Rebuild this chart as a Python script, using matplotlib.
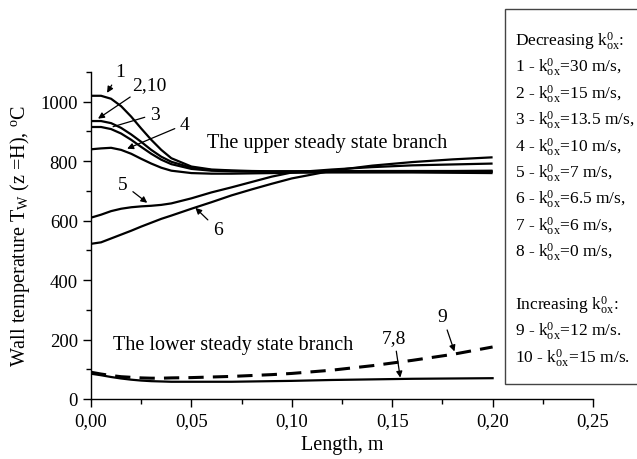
import matplotlib
matplotlib.use("Agg")
import matplotlib.pyplot as plt
from matplotlib.ticker import MultipleLocator, FuncFormatter
from matplotlib.patches import Rectangle

plt.rcParams['font.family'] = ['Liberation Serif', 'DejaVu Serif']
plt.rcParams['mathtext.fontset'] = 'custom'
plt.rcParams['mathtext.rm'] = 'Liberation Serif'
plt.rcParams['mathtext.it'] = 'Liberation Serif:italic'

# ---- data ----
length = [0, 0.005, 0.01, 0.015, 0.02, 0.025, 0.03, 0.035, 0.04, 0.05,
          0.06, 0.07, 0.08, 0.09, 0.10, 0.12, 0.14, 0.16, 0.18, 0.20]
curve1 = [1020, 1020, 1010, 985, 950, 910, 872, 838, 810, 782,
          772, 769, 767, 766, 766, 766, 767, 767, 767, 768]
curve2_10 = [935, 935, 928, 912, 890, 865, 838, 815, 798, 778,
             770, 767, 766, 765, 765, 765, 765, 766, 766, 766]
curve3 = [915, 915, 908, 893, 872, 848, 825, 805, 790, 774,
          768, 766, 765, 765, 765, 765, 765, 765, 765, 764]
curve4 = [840, 843, 845, 838, 825, 808, 792, 778, 768, 760,
          758, 758, 759, 760, 761, 762, 762, 762, 761, 760]
curve5 = [610, 620, 632, 640, 645, 648, 650, 653, 658, 675,
          695, 712, 730, 748, 762, 772, 780, 786, 789, 792]
curve6 = [522, 527, 540, 553, 566, 580, 593, 606, 617, 640,
          662, 685, 705, 724, 742, 768, 785, 797, 806, 813]
curve7_8 = [85, 80, 74, 69, 65, 62, 60, 59, 58, 58,
            58, 58, 59, 60, 61, 64, 66, 68, 69, 70]
curve9 = [90, 84, 79, 75, 73, 71, 70, 70, 71, 72,
          74, 76, 79, 82, 86, 97, 112, 130, 150, 175]

upper_solid = [curve1, curve2_10, curve3, curve4, curve5, curve6]

legend_lines = [
    r"Decreasing k$\mathregular{^{0}_{ox}}$:",
    r"1 - k$\mathregular{^{0}_{ox}}$=30 m/s,",
    r"2 - k$\mathregular{^{0}_{ox}}$=15 m/s,",
    r"3 - k$\mathregular{^{0}_{ox}}$=13.5 m/s,",
    r"4 - k$\mathregular{^{0}_{ox}}$=10 m/s,",
    r"5 - k$\mathregular{^{0}_{ox}}$=7 m/s,",
    r"6 - k$\mathregular{^{0}_{ox}}$=6.5 m/s,",
    r"7 - k$\mathregular{^{0}_{ox}}$=6 m/s,",
    r"8 - k$\mathregular{^{0}_{ox}}$=0 m/s,",
    "",
    r"Increasing k$\mathregular{^{0}_{ox}}$:",
    r"9 - k$\mathregular{^{0}_{ox}}$=12 m/s.",
    r"10 - k$\mathregular{^{0}_{ox}}$=15 m/s.",
]

# label text, text position, arrow tip, arrow style
annotations = [
    ("1", (0.0144, 1102), (0.0080, 1030), '-|>'),
    ("2,10", (0.0290, 1059), (0.0035, 943), '-|>'),
    ("3", (0.0319, 958), (0.0110, 916), '-'),
    ("4", (0.0468, 924), (0.0180, 842), '-|>'),
    ("5", (0.0160, 723), (0.0280, 660), '-|>'),
    ("6", (0.0630, 571), (0.0520, 643), '-|>'),
    ("9", (0.1750, 279), (0.1810, 160), '-|>'),
    ("7,8", (0.1510, 208), (0.1540, 72), '-|>'),
]

fig = plt.figure(figsize=(6.37, 4.60), dpi=100)
ax = fig.add_axes([91 / 637, 1 - 400 / 460, 502 / 637, 327 / 460])

for c in upper_solid:
    ax.plot(length, c, color='black', lw=1.6, solid_capstyle='butt')
ax.plot(length, curve7_8, color='black', lw=1.6)
ax.plot(length, curve9, color='black', lw=2.2, dashes=(5, 3))

ax.set_xlim(0, 0.25)
ax.set_ylim(0, 1100)
ax.spines['top'].set_visible(False)
ax.spines['right'].set_visible(False)
for s in ('left', 'bottom'):
    ax.spines[s].set_linewidth(1.0)
ax.xaxis.set_major_locator(MultipleLocator(0.05))
ax.xaxis.set_minor_locator(MultipleLocator(0.025))
ax.yaxis.set_major_locator(MultipleLocator(200))
ax.yaxis.set_minor_locator(MultipleLocator(100))
ax.xaxis.set_major_formatter(FuncFormatter(lambda v, p: f"{v:.2f}".replace('.', ',')))
ax.tick_params(which='major', direction='out', length=6, width=1.0, labelsize=13.5)
ax.tick_params(which='minor', direction='out', length=3.5, width=1.0)

ax.set_xlabel("Length, m", fontsize=14.5, labelpad=4)
ax.set_ylabel(r"Wall temperature T$\mathregular{_W}$ (z =H), $\mathregular{^o}$C",
              fontsize=14.5, labelpad=6)

ax.text(0.058, 864, "The upper steady state branch", fontsize=14.5, va='center', ha='left')
ax.text(0.011, 185, "The lower steady state branch", fontsize=14.5, va='center', ha='left')

for label, tpos, tip, style in annotations:
    ax.annotate(label, xy=tip, xytext=tpos, fontsize=14, ha='center', va='center',
                annotation_clip=False,
                arrowprops=dict(arrowstyle=style, color='black', lw=0.9,
                                mutation_scale=9, shrinkA=2, shrinkB=0))

# legend box
fig.patches.append(Rectangle((505 / 637, 1 - 385 / 460), 0.3, 375 / 460,
                             transform=fig.transFigure, facecolor='white',
                             edgecolor='#444444', lw=1.0))
y0 = 41
step = 26.4
for i, line in enumerate(legend_lines):
    if line:
        fig.text(515 / 637, 1 - (y0 + i * step) / 460, line, fontsize=12.5,
                 va='center', ha='left')

fig.savefig("out.png", dpi=100)
